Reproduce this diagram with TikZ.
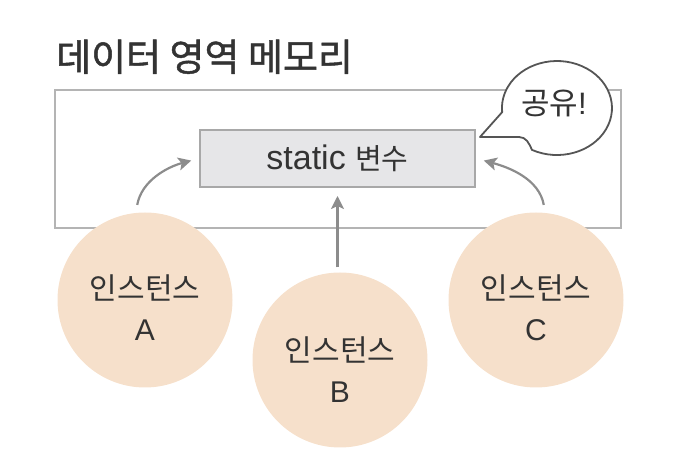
\documentclass[tikz,border=0pt]{standalone}
\usepackage{fontspec}
\setmainfont{Liberation Sans}
\newfontfamily\kr{Noto Sans CJK KR}
\newfontfamily\krtitle[FakeBold=1.2]{Noto Sans CJK KR}
\usetikzlibrary{arrows.meta,calc}
\definecolor{txt}{HTML}{333333}
\definecolor{rectline}{HTML}{B4B4B4}
\definecolor{boxfill}{HTML}{E6E6E8}
\definecolor{boxline}{HTML}{A8A8A8}
\definecolor{arrowc}{HTML}{8C8C8C}
\definecolor{peach}{HTML}{F6E0CB}
\definecolor{bubbleline}{HTML}{555555}
\tikzset{
  outerbox/.style={draw=rectline,line width=2.2pt},
  varbox/.style={draw=boxline,fill=boxfill,line width=2pt,minimum width=275pt,minimum height=57pt,inner sep=0pt},
  inst/.style={circle,fill=peach,minimum size=175pt,inner sep=0pt},
  insttext/.style={align=center,text=txt,font=\fontsize{30}{41}\selectfont,inner sep=0pt},
  arr/.style={draw=arrowc,line width=2.2pt,-{Stealth[length=13pt,width=13pt,inset=3pt]},shorten <=8pt,shorten >=8pt},
  bubble/.style={draw=bubbleline,fill=white,line width=1.8pt,line join=round},
}
\begin{document}
\begin{tikzpicture}[x=1pt,y=1pt]
\useasboundingbox (0,0) rectangle (686,476);
% title
\node[anchor=base west,inner sep=0pt,text=txt,font=\krtitle\fontsize{38}{40}\selectfont] (title) at (56,405) {데이터 영역 메모리};
% outer rectangle
\draw[outerbox] (55,248) rectangle (621,386);
% static variable box
\node[varbox] (box) at (337.5,317.5) {};
\node[text=txt,inner sep=0pt] (boxtext) at (337.5,317.5) {\fontsize{34}{36}\selectfont static {\kr\fontsize{29}{36}\selectfont 변수}};
% speech bubble
\coordinate (tip) at (480,339);
\draw[bubble] (tip) -- (519,339) .. controls (526,339) and (529,333) .. (532.0,326.1)
  arc[start angle=-117,end angle=185,x radius=55,y radius=47] -- cycle;
\node[text=txt,inner sep=0pt] (share) at (554,373) {{\kr\fontsize{31}{34}\selectfont 공유}\fontsize{31}{34}\selectfont!};
% instances
\node[inst] (A) at (145,176) {};
\node[inst] (B) at (340,116) {};
\node[inst] (C) at (536,176) {};
\node[insttext] (At) at (145,168) {{\kr 인스턴스}\\A};
\node[insttext] (Bt) at (340,106) {{\kr 인스턴스}\\B};
\node[insttext] (Ct) at (536,168) {{\kr 인스턴스}\\C};
% arrows
\draw[arr] (A.96) to[out=80,in=195] (box.west);
\draw[arr] (C.84) to[out=100,in=-15] (box.east);
\draw[arr,shorten <=5pt] (B.north -| box.south) -- (box.south);
\end{tikzpicture}
\end{document}
